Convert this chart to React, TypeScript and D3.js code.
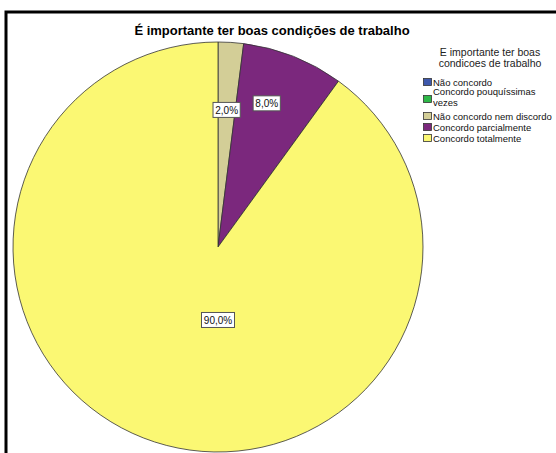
import React from "react";
import * as d3 from "d3";

const categories = [
  "Não concordo",
  "Concordo pouquíssimas vezes",
  "Não concordo nem discordo",
  "Concordo parcialmente",
  "Concordo totalmente",
];
const legendLines = [
  ["Não concordo"],
  ["Concordo pouquíssimas", "vezes"],
  ["Não concordo nem discordo"],
  ["Concordo parcialmente"],
  ["Concordo totalmente"],
];
const values = [0, 0, 2, 8, 90];
const colors = ["#3E58AC", "#2EB848", "#D3CE97", "#7B287D", "#FBF873"];
const labelTexts = ["", "", "2,0%", "8,0%", "90,0%"];
const title = "É importante ter boas condições de trabalho";
const legendTitle = ["E importante ter boas", "condicoes de trabalho"];

const W = 556;
const H = 453;
const cx = 218;
const cy = 247;
const R = 205;

export default function App() {
  const data = categories.map((c, i) => ({ c, v: values[i], i }));
  const pie = d3
    .pie<any>()
    .value((d) => d.v)
    .sort(null)
    .startAngle(0)
    .endAngle(2 * Math.PI);
  const arcs = pie(data);
  const arc = d3.arc<any>().innerRadius(0).outerRadius(R);

  const labelPos = (a: any) => {
    const mid = (a.startAngle + a.endAngle) / 2;
    if (a.data.i === 4) return [0, R * 0.356];
    const f = a.data.i === 2 ? 0.67 : 0.74;
    const ang = a.data.i === 3 ? mid - 0.05 : mid;
    return [Math.sin(ang) * R * f, -Math.cos(ang) * R * f];
  };

  const legX = 423;
  const legStart = 78;
  const rowH = 11;
  const lineGap = 10.5;
  let y = legStart;
  const legendRows = legendLines.map((lines, i) => {
    const n = lines.length;
    const swatchTop = y + (n - 1) * 6;
    const base = n === 1 ? y + 7.5 : y + 6;
    y += n === 1 ? rowH : rowH + 12;
    return { lines, i, swatchTop, base };
  });

  return (
    <svg
      width={W}
      height={H}
      style={{ position: "absolute", left: 0, top: 0, background: "#fff" }}
      fontFamily="Liberation Sans, Arial, sans-serif"
    >
      <rect x={0} y={0} width={W} height={H} fill="#fff" />
      <rect x={6} y={12} width={W + 20} height={H + 20} fill="none" stroke="#000" strokeWidth={3} />
      <text x={272} y={35} textAnchor="middle" fontWeight="bold" fontSize={13}>
        {title}
      </text>
      <g transform={`translate(${cx},${cy})`}>
        {arcs.map((a, i) =>
          a.value > 0 ? (
            <path key={i} d={arc(a) as string} fill={colors[i]} stroke="#333" strokeWidth={0.8} />
          ) : null
        )}
        {arcs.map((a, i) => {
          if (!labelTexts[i]) return null;
          const [lx, ly] = labelPos(a);
          const tw = labelTexts[i].length * 5.8 + 4;
          return (
            <g key={"l" + i} transform={`translate(${lx},${ly})`}>
              <rect x={-tw / 2} y={-7.5} width={tw} height={15} fill="#fff" stroke="#555" strokeWidth={1} />
              <text x={0} y={3.6} textAnchor="middle" fontSize={10} fill="#111">
                {labelTexts[i]}
              </text>
            </g>
          );
        })}
      </g>
      <g fontSize={10.5} fill="#222">
        {legendTitle.map((t, i) => (
          <text key={i} x={490} y={56 + i * 10.5} textAnchor="middle">
            {t}
          </text>
        ))}
      </g>
      <g fontSize={9.5}>
        {legendRows.map((r) => (
          <g key={r.i}>
            <rect x={legX + 0.5} y={r.swatchTop + 0.5} width={8} height={7} fill={colors[r.i]} stroke="#333" strokeWidth={0.8} />
            {r.lines.map((l, k) => (
              <text key={k} x={legX + 10} y={r.base + k * lineGap} fill="#111">
                {l}
              </text>
            ))}
          </g>
        ))}
      </g>
    </svg>
  );
}
